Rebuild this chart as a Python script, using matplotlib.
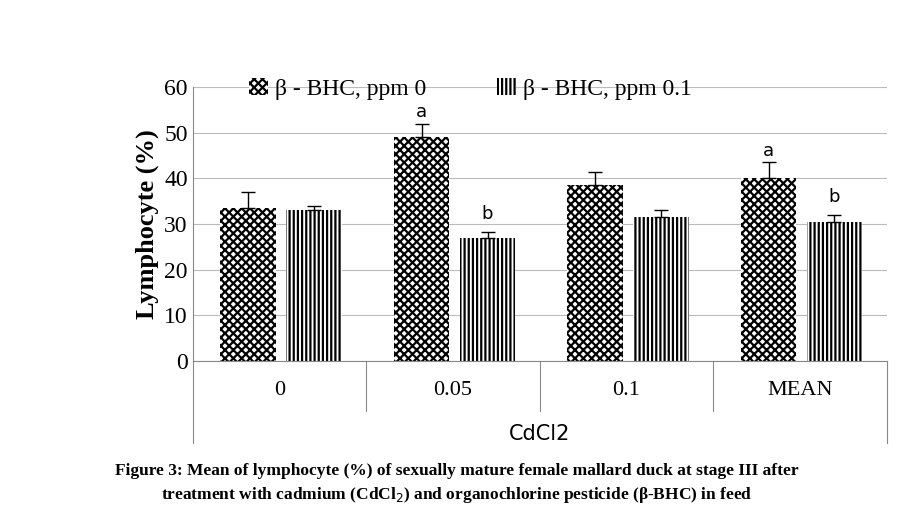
import matplotlib
matplotlib.use("Agg")
import matplotlib.pyplot as plt
import numpy as np

groups = ["0", "0.05", "0.1", "MEAN"]
ppm0 = [33.5, 49.0, 38.5, 40.0]
ppm0_err = [3.5, 3.0, 3.0, 3.5]
ppm01 = [33.0, 27.0, 31.5, 30.5]
ppm01_err = [1.0, 1.2, 1.5, 1.5]
letters0 = ["", "a", "", "a"]
letters01 = ["", "b", "", "b"]

plt.rcParams["hatch.linewidth"] = 1.6
fig = plt.figure(figsize=(9.13, 5.28), dpi=100)
ax = fig.add_axes([0.211, 0.316, 0.76, 0.519])
x = np.arange(len(groups))
w = 0.32
ax.bar(x - 0.18, ppm0, w, color="white", edgecolor="black", hatch="xxxx", linewidth=0,
       label="β - BHC, ppm 0", zorder=2)
ax.bar(x + 0.2, ppm01, w, color="white", edgecolor="black", hatch="||||", linewidth=0,
       label="β - BHC, ppm 0.1", zorder=2)
ax.errorbar(x - 0.18, ppm0, yerr=[np.zeros(4), ppm0_err], fmt="none", ecolor="black",
            capsize=5, lw=1, zorder=3)
ax.errorbar(x + 0.2, ppm01, yerr=[np.zeros(4), ppm01_err], fmt="none", ecolor="black",
            capsize=5, lw=1, zorder=3)
for i in range(4):
    if letters0[i]:
        ax.text(x[i] - 0.18, ppm0[i] + ppm0_err[i] + 0.5, letters0[i], ha="center",
                va="bottom", fontsize=13)
    if letters01[i]:
        ax.text(x[i] + 0.2, ppm01[i] + ppm01_err[i] + 2, letters01[i], ha="center",
                va="bottom", fontsize=13)

ax.set_xlim(-0.5, 3.5)
ax.set_ylim(0, 60)
ax.set_yticks(range(0, 61, 10))
ax.yaxis.grid(True, color="#bbbbbb", lw=0.8, zorder=0)
for s in ["top", "right"]:
    ax.spines[s].set_visible(False)
ax.spines["left"].set_color("#888888")
ax.spines["bottom"].set_color("#888888")
ax.tick_params(axis="y", labelsize=17, length=0)
for t in ax.get_yticklabels():
    t.set_family("Liberation Serif")
ax.set_xticks([])
for i, g in enumerate(groups):
    ax.text(i, -6.5, g, ha="center", va="center", fontsize=16, family="Liberation Serif")
for b in np.arange(-0.5, 4.0, 1.0):
    depth = -18 if b in (-0.5, 3.5) else -11
    ax.plot([b, b], [0, depth], color="#888888", lw=0.8, clip_on=False)
ax.text(1.5, -16, "CdCl2", ha="center", va="center", fontsize=15)
ax.set_ylabel("Lymphocyte (%)", fontsize=19, family="Liberation Serif", fontweight="bold")
ax.legend(loc="upper center", bbox_to_anchor=(0.4, 1.11), ncol=2, frameon=False,
          handlelength=0.8, handletextpad=0.3, columnspacing=3,
          prop={"family": "Liberation Serif", "size": 17})
fig.text(0.5, 0.1, "Figure 3: Mean of lymphocyte (%) of sexually mature female mallard duck at stage III after",
         ha="center", fontsize=12.5, family="Liberation Serif", fontweight="bold")
fig.text(0.5, 0.055, "treatment with cadmium (CdCl$_2$) and organochlorine pesticide (β-BHC) in feed",
         ha="center", fontsize=12.5, family="Liberation Serif", fontweight="bold")
fig.savefig("out.png", dpi=100)
